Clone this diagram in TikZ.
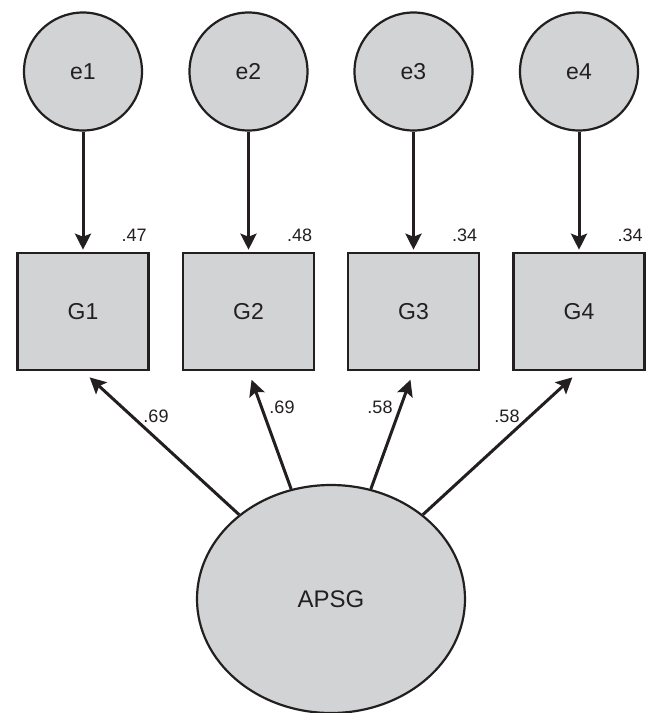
\documentclass[tikz,border=0pt]{standalone}
\usepackage{fontspec}
\setmainfont{Liberation Sans}
\usepackage{tikz}
\usetikzlibrary{shapes.geometric,arrows.meta}
\usepackage{xcolor}
\definecolor{semfill}{RGB}{209,211,212}
\definecolor{semline}{RGB}{35,31,32}

\tikzset{
  errnode/.style={circle,draw=semline,fill=semfill,line width=2.2pt,minimum size=118pt,inner sep=0pt,text=semline,font=\fontsize{23}{27}\selectfont},
  obsnode/.style={rectangle,draw=semline,fill=semfill,line width=2.6pt,minimum width=131pt,minimum height=117pt,inner sep=0pt,text=semline,font=\fontsize{23}{27}\selectfont},
  latnode/.style={ellipse,draw=semline,fill=semfill,line width=2.2pt,minimum width=268pt,minimum height=228pt,inner sep=0pt,text=semline,font=\fontsize{24}{28}\selectfont},
  numlabel/.style={inner sep=0pt,text=semline,font=\fontsize{18}{21}\selectfont},
  arr/.style={draw=semline,line width=3pt,-{Stealth[length=16pt,width=16pt,inset=3pt]}}
}

\begin{document}
\begin{tikzpicture}[x=1pt,y=-1pt]
			\useasboundingbox[fill=white] (0,0) rectangle (647,713);
			\foreach \Nombre/\xpos in {1/83,2/248.5,3/413.5,4/579} {
				\node[errnode] (e\Nombre) at (\xpos,71.5) {e\Nombre};
				\node[obsnode] (G\Nombre) at (\xpos,311.5) {G\Nombre};
				\draw[arr,shorten >=2pt] (e\Nombre) -- (G\Nombre);
			}
			\node[latnode] (APSG) at (331,599) {APSG};
			\foreach \Nombre in {1,2,3,4}
				\draw[arr,shorten >=9pt] (APSG) -- (G\Nombre.south);
			% squared multiple correlations
			\foreach \Nombre/\Valeur in {1/.47,2/.48,3/.34,4/.34}
				\node[numlabel,anchor=base east] (r\Nombre) at ([xshift=-3pt,yshift=10pt]G\Nombre.north east) {\Valeur};
			% loadings
			\node[numlabel] (w1) at (156,416) {.69};
			\node[numlabel] (w2) at (282,407) {.69};
			\node[numlabel] (w3) at (380,407) {.58};
			\node[numlabel] (w4) at (507,416) {.58};
		\end{tikzpicture}
\end{document}
